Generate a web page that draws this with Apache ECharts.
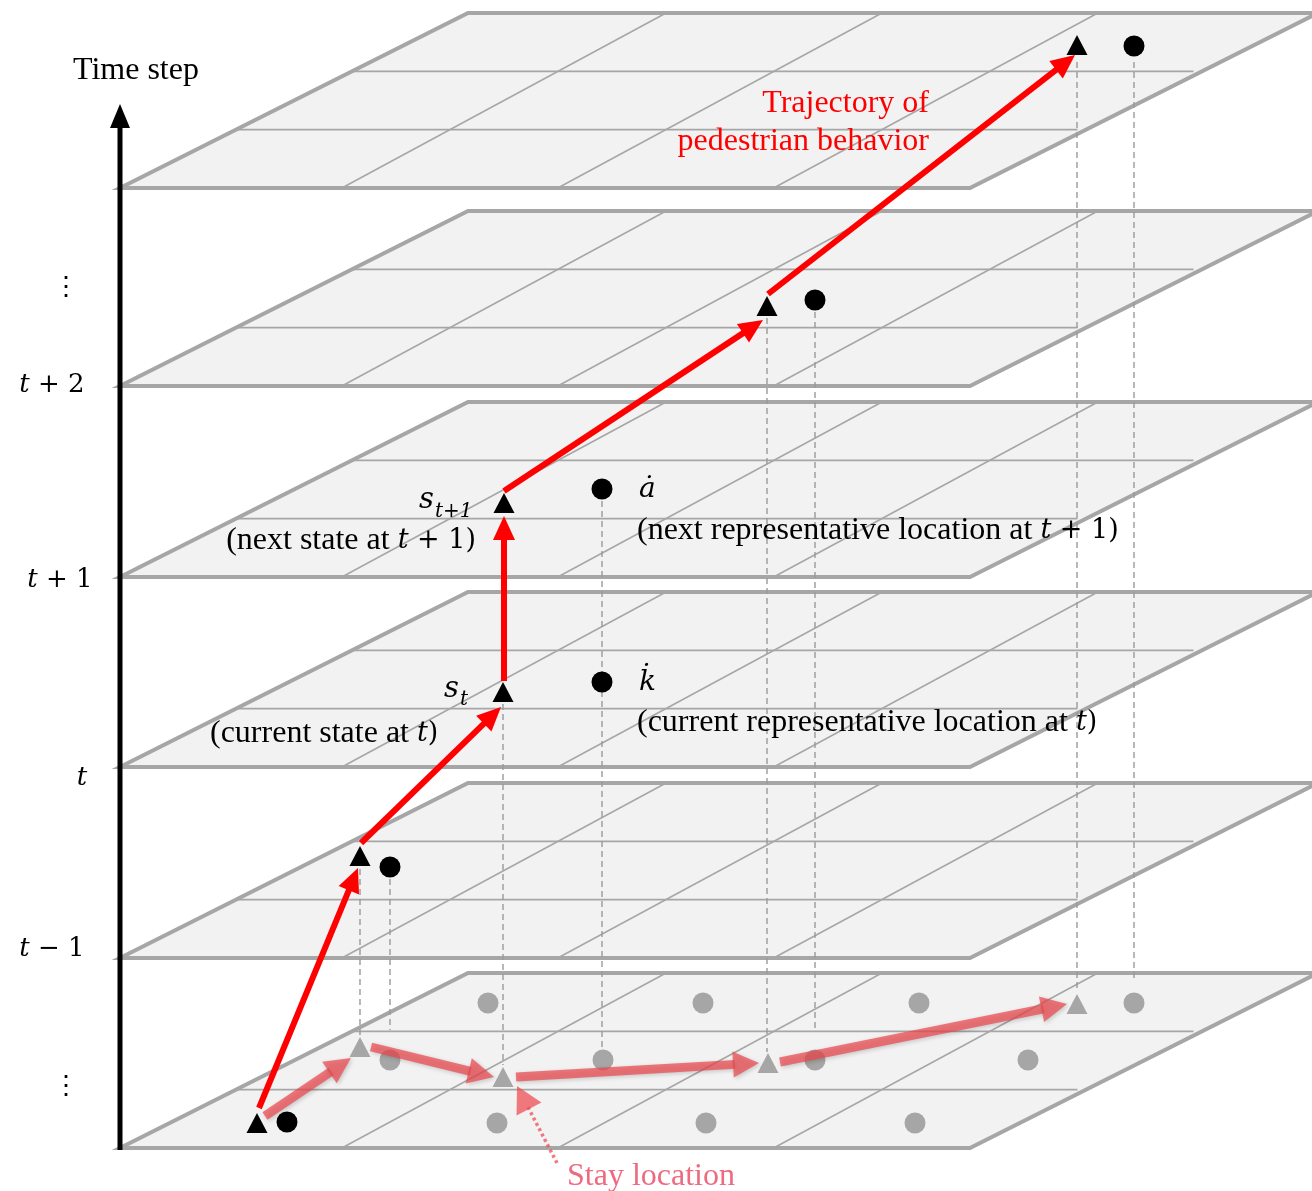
<!DOCTYPE html>
<html><head><meta charset="utf-8">
<script src="https://cdn.jsdelivr.net/npm/echarts@6/dist/echarts.min.js"></script>
<style>html,body{margin:0;padding:0;background:#fff}#c{width:1312px;height:1191px}</style>
</head><body><div id="c"></div>
<script>
// ---------- data (diagram coordinates on the page grid) ----------
const planeBaseY = [188, 386, 577, 767, 958, 1148];          // bottom edge of each time-step plane
const gridRowsV = [1/3, 2/3];                                  // depth fractions of row lines
const gridColsU = [[0.261, 0.233], [0.515, 0.487], [0.769, 0.741]]; // column lines (u at front, u at back)

const stepLabels = ['⋮', '{i|t} + 2', '{i|t} + 1', '{i|t}', '{i|t} − 1', '⋮'];
const stepLabelX = [66, 52, 60, 82, 52, 66];
const stepLabelY = [288, 385, 580, 778, 949, 1087];

const timeAxisLine = [[120, 1150, 104]];                       // x, bottom, tip

const stateTriangles = [[257,1123],[360,856],[503,692],[504,503],[767,306],[1077,45]];
const repCircles     = [[287,1122],[390,867],[602,682],[602,489],[815,300],[1134,46]];
const stayTriangles  = [[360,1047],[503,1077],[768,1063],[1077,1004]];
const cellCircles    = [[488,1003],[703,1003],[919,1003],[1134,1003],
                        [390,1060],[603,1060],[815,1060],[1028,1060],
                        [497,1123],[706,1123],[915,1123]];

const dropLines = [[1077,62,988],[1134,62,982],[767,318,1052],[815,312,1032],
                   [602,501,1050],[503,704,1065],[360,869,1036],[390,879,1030]];

const trajectory = [[259,1108,358,868],[361,843,501,707],[504,681,504,516],
                    [504,491,763,320],[768,294,1075,55]];
const moveArrows = [[265,1116,351,1058],[371,1047,494,1077],[516,1077,759,1063],[780,1062,1067,1004]];
const stayArrow  = [[557,1163,517,1086]];

const blackTexts = [
  ['Time step', 73, 71, 'left'],
  ['(next state at {i|t}{m| + 1)}', 476, 541, 'right'],
  ['(current state at {i|t}{m|)}', 210, 734, 'left'],
  ['(next representative location at {i|t}{m| + 1)}', 637, 531, 'left'],
  ['(current representative location at {i|t}{m|)}', 637, 723, 'left']
];
const mathTexts = [
  ['s', 434, 500, 'right', 29], ['t+1', 435, 512, 'left', 20],
  ['s', 459, 689, 'right', 29], ['t', 460, 700, 'left', 20],
  ['ȧ', 639, 490, 'left', 28], ['k̇', 639, 683, 'left', 28]
];
const redTexts  = [['Trajectory of', 929, 104, 'right'], ['pedestrian behavior', 929, 142, 'right']];
const pinkTexts = [['Stay location', 567, 1177, 'left']];

// ---------- geometry of a plane (page units) ----------
const X0 = 120, PW = 850, SKEW = 348, DEPTH = 175;
const GREY = '#a6a6a6';
const SERIF = '"Liberation Serif","Times New Roman",serif';
const MATH = '"DejaVu Serif",serif';

function pp(api, base, u, v) { return api.coord([X0 + PW*u + SKEW*v, base - DEPTH*v]); }

function arrowShapes(api, a, head, halfW, style, lineStyle) {
  const s = api.coord([a[0], a[1]]), t = api.coord([a[2], a[3]]);
  const dx = t[0]-s[0], dy = t[1]-s[1], len = Math.hypot(dx, dy);
  const ux = dx/len, uy = dy/len, nx = -uy, ny = ux;
  const bx = t[0]-ux*head, by = t[1]-uy*head;
  return [
    {type:'line', shape:{x1:s[0], y1:s[1], x2:bx+ux*2, y2:by+uy*2}, style:Object.assign({fill:null}, lineStyle)},
    {type:'polygon', shape:{points:[[t[0],t[1]],[bx+nx*halfW, by+ny*halfW],[bx-nx*halfW, by-ny*halfW]]}, style:style}
  ];
}

const textSeries = (rows, color, isMath) => ({
  type:'custom', z:8, silent:true, data: rows.map((r,i)=>[r[1], r[2], i]),
  renderItem(params, api) {
    const r = rows[api.value(2)], p = api.coord([api.value(0), api.value(1)]);
    const fs = r[4] || 32;
    return {type:'text', x:p[0], y:p[1], style:{
      text:r[0], fill:color, fontFamily: isMath ? MATH : SERIF, fontSize:fs, align:r[3], verticalAlign:'middle',
      fontStyle: isMath ? 'italic' : 'normal',
      rich:{
        i:{fontStyle:'italic', fontFamily:MATH, fontSize:27, fill:color},
        m:{fontFamily:MATH, fontSize:27, fill:color}
      }
    }};
  }
});

const chart = echarts.init(document.getElementById('c'), null, {renderer:'canvas'});
chart.setOption({
  animation:false,
  backgroundColor:'#ffffff',
  grid:{left:0, right:0, top:0, bottom:0},
  xAxis:{type:'value', min:0, max:1312, show:false},
  yAxis:{type:'value', min:0, max:1191, inverse:true, show:false},
  series:[
    { // planes
      type:'custom', z:1, silent:true, data: planeBaseY.map(b=>[X0, b]),
      renderItem(params, api) {
        const base = api.value(1), ch = [];
        ch.push({type:'polygon', shape:{points:[pp(api,base,0,0),pp(api,base,1,0),pp(api,base,1,1),pp(api,base,0,1)]},
                 style:{fill:'#f2f2f2', stroke:null}});
        gridRowsV.forEach(v=>{
          const a = pp(api,base,0,v), b = pp(api,base,0.99,v);
          ch.push({type:'line', shape:{x1:a[0],y1:a[1],x2:b[0],y2:b[1]}, style:{stroke:GREY, lineWidth:1.8}});
        });
        gridColsU.forEach(c=>{
          const a = pp(api,base,c[0],0), b = pp(api,base,c[1],1);
          ch.push({type:'line', shape:{x1:a[0],y1:a[1],x2:b[0],y2:b[1]}, style:{stroke:GREY, lineWidth:1.5}});
        });
        ch.push({type:'polygon', shape:{points:[pp(api,base,0,0),pp(api,base,1,0),pp(api,base,1,1),pp(api,base,0,1)]},
                 style:{fill:null, stroke:GREY, lineWidth:4, lineJoin:'miter'}});
        return {type:'group', children:ch};
      }
    },
    { // time axis
      type:'custom', z:2, silent:true, data: timeAxisLine,
      renderItem(params, api) {
        const b = api.coord([api.value(0), api.value(1)]), t = api.coord([api.value(0), api.value(2)]);
        return {type:'group', children:[
          {type:'line', shape:{x1:b[0],y1:b[1],x2:t[0],y2:t[1]+20}, style:{stroke:'#000', lineWidth:5}},
          {type:'polygon', shape:{points:[[t[0],t[1]],[t[0]-10,t[1]+24],[t[0]+10,t[1]+24]]}, style:{fill:'#000'}}
        ]};
      }
    },
    { // dashed drop lines
      type:'custom', z:3, silent:true, data: dropLines,
      renderItem(params, api) {
        const a = api.coord([api.value(0), api.value(1)]), b = api.coord([api.value(0), api.value(2)]);
        return {type:'line', shape:{x1:a[0],y1:a[1],x2:b[0],y2:b[1]},
                style:{stroke:'#9a9a9a', lineWidth:1.4, lineDash:[6,4]}};
      }
    },
    {type:'scatter', z:4, silent:true, data:cellCircles, symbol:'circle', symbolSize:21, itemStyle:{color:GREY, opacity:1}},
    {type:'scatter', z:4, silent:true, data:stayTriangles, symbol:'triangle', symbolSize:[21,20], itemStyle:{color:GREY, opacity:1}},
    { // pink movement arrows
      type:'custom', z:5, silent:true, data: moveArrows,
      renderItem(params, api) {
        const a = [api.value(0),api.value(1),api.value(2),api.value(3)];
        const col = 'rgba(236,72,78,0.72)';
        return {type:'group', children: arrowShapes(api, a, 26, 13,
          {fill:col, shadowBlur:4, shadowColor:'rgba(0,0,0,0.25)', shadowOffsetX:1.5, shadowOffsetY:1.5},
          {stroke:col, lineWidth:9, shadowBlur:4, shadowColor:'rgba(0,0,0,0.25)', shadowOffsetX:1.5, shadowOffsetY:1.5})};
      }
    },
    { // stay-location pointer
      type:'custom', z:5, silent:true, data: stayArrow,
      renderItem(params, api) {
        const a = [api.value(0),api.value(1),api.value(2),api.value(3)];
        const col = 'rgba(236,72,78,0.72)';
        return {type:'group', children: arrowShapes(api, a, 26, 14,
          {fill:col}, {stroke:col, lineWidth:3.5, lineDash:[3,3]})};
      }
    },
    {type:'scatter', z:6, silent:true, data:repCircles, symbol:'circle', symbolSize:21, itemStyle:{color:'#000', opacity:1}},
    {type:'scatter', z:6, silent:true, data:stateTriangles, symbol:'triangle', symbolSize:[21,20], itemStyle:{color:'#000', opacity:1}},
    { // red trajectory
      type:'custom', z:7, silent:true, data: trajectory,
      renderItem(params, api) {
        const a = [api.value(0),api.value(1),api.value(2),api.value(3)];
        return {type:'group', children: arrowShapes(api, a, 24, 11, {fill:'#ff0000'}, {stroke:'#ff0000', lineWidth:6})};
      }
    },
    { // step labels
      type:'custom', z:8, silent:true, data: stepLabels.map((s,i)=>[stepLabelX[i], stepLabelY[i], i]),
      renderItem(params, api) {
        const i = api.value(2), p = api.coord([api.value(0), api.value(1)]);
        return {type:'text', x:p[0], y:p[1], style:{text:stepLabels[i], fill:'#000', fontFamily:MATH, fontSize:26,
          align:'center', verticalAlign:'middle', rich:{i:{fontStyle:'italic', fontFamily:MATH, fontSize:26, fill:'#000'}}}};
      }
    },
    textSeries(blackTexts, '#000', false),
    textSeries(mathTexts, '#000', true),
    textSeries(redTexts, '#ff0000', false),
    textSeries(pinkTexts, '#ee6a80', false)
  ]
});
</script></body></html>
